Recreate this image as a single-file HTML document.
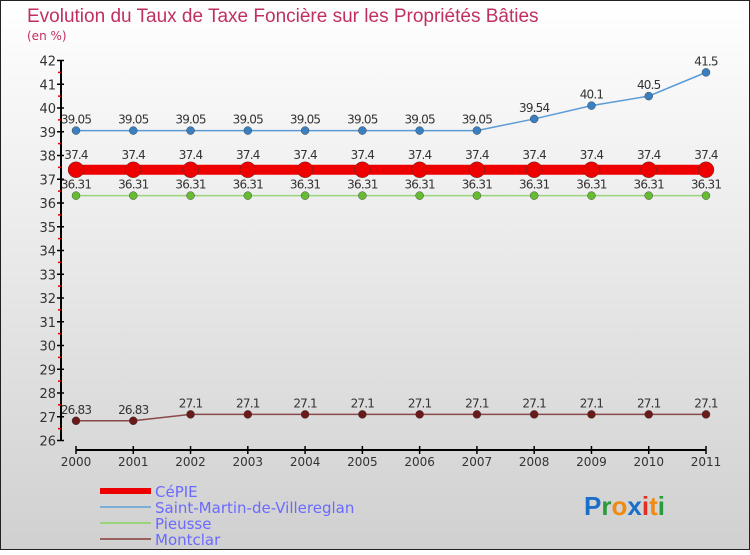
<!DOCTYPE html>
<html><head><meta charset="utf-8"><style>
body{margin:0}
svg text{font-family:"DejaVu Sans","Liberation Sans",sans-serif}
</style></head><body>
<svg id="c" width="750" height="550" xmlns="http://www.w3.org/2000/svg">
<defs><linearGradient id="bg" x1="0" y1="0" x2="0" y2="1"><stop offset="0" stop-color="#ffffff"/><stop offset="1" stop-color="#d0d0d0"/></linearGradient></defs>
<rect x="0.5" y="0.5" width="749" height="549" fill="url(#bg)" stroke="#222"/>
<text x="27" y="22" font-size="19" fill="#c0305f" style="font-family:'Liberation Sans',sans-serif">Evolution du Taux de Taxe Foncière sur les Propriétés Bâties</text>
<text x="27" y="40" font-size="12" fill="#c0305f">(en %)</text>
<g id="axes"></g><g id="series"></g><g id="legend"></g>
<text x="584" y="515" font-size="26" font-weight="bold" style="font-family:'Liberation Sans',sans-serif"><tspan fill="#1a6fc9">P</tspan><tspan fill="#2a9a3a">r</tspan><tspan fill="#f08a10">o</tspan><tspan fill="#1a6fc9">x</tspan><tspan fill="#e03020">i</tspan><tspan fill="#f08a10">t</tspan><tspan fill="#2a9a3a">i</tspan></text>
</svg>
<script>
const years=[2000,2001,2002,2003,2004,2005,2006,2007,2008,2009,2010,2011];
const yTicks=[26,27,28,29,30,31,32,33,34,35,36,37,38,39,40,41,42];
const names=["CéPIE","Saint-Martin-de-Villereglan","Pieusse","Montclar"];
const cepie=[37.4,37.4,37.4,37.4,37.4,37.4,37.4,37.4,37.4,37.4,37.4,37.4];
const stmartin=[39.05,39.05,39.05,39.05,39.05,39.05,39.05,39.05,39.54,40.1,40.5,41.5];
const pieusse=[36.31,36.31,36.31,36.31,36.31,36.31,36.31,36.31,36.31,36.31,36.31,36.31];
const montclar=[26.83,26.83,27.1,27.1,27.1,27.1,27.1,27.1,27.1,27.1,27.1,27.1];
const NS="http://www.w3.org/2000/svg";
const X=i=>76+i*(706-76)/(years.length-1);
const Y=v=>440.5-(v-26)*(440.5-60.5)/16;
function mk(p,t,a){const e=document.createElementNS(NS,t);for(const k in a)e.setAttribute(k,a[k]);p.appendChild(e);return e;}
const ax=document.getElementById('axes');
let l=mk(ax,'line',{x1:61,y1:Y(42),x2:61,y2:Y(26),stroke:'#000','stroke-width':2});


yTicks.forEach(v=>{
 mk(ax,'line',{x1:57,y1:Y(v),x2:64,y2:Y(v),stroke:'#000','stroke-width':1.5});
 if(v<42) mk(ax,'line',{x1:58,y1:Y(v+0.5),x2:61,y2:Y(v+0.5),stroke:'#e00000','stroke-width':1.5});
 const t=mk(ax,'text',{x:56,y:Y(v)+5,'text-anchor':'end','font-size':13,fill:'#333'});t.textContent=v;
 
 
});
l=mk(ax,'line',{x1:76,y1:450,x2:706,y2:450,stroke:'#000','stroke-width':2});


years.forEach((y,i)=>{
 mk(ax,'line',{x1:X(i),y1:446,x2:X(i),y2:454,stroke:'#000','stroke-width':1.5});
 const t=mk(ax,'text',{x:X(i),y:466,'text-anchor':'middle','font-size':12,fill:'#333'});t.textContent=y;
 
 
});
const sg=document.getElementById('series');
const defs=[[stmartin,'#5b9bd5','#3a7fc0',1.5,4,'saint-martin',-7],[montclar,'#8b4a4a','#6b1a1a',1.5,4,'montclar',-7],[pieusse,'#99d47a','#66bb33',1.5,4,'pieusse',-7],[cepie,'#ee0000','#ee0000',10,8,'cepie',-11]];
defs.forEach(([d,lc,pc,w,r,n,off])=>{
 const g=mk(sg,'g',{});
 
 
 const p=mk(g,'polyline',{points:d.map((v,i)=>X(i)+','+Y(v)).join(' '),fill:'none',stroke:lc,'stroke-width':w});
 
 
 d.forEach((v,i)=>{
  const c=mk(g,'circle',{cx:X(i),cy:Y(v),r:r,fill:pc,stroke:'#333','stroke-width':0.4});
  
  
  const t=mk(g,'text',{x:X(i),y:Y(v)+off,'text-anchor':'middle','font-size':12,fill:'#333','letter-spacing':'-0.8'});t.textContent=v;
  
  
 });
});
const lg=document.getElementById('legend');
const lcol=['#ee0000','#7aaed6','#99d47a','#9a6060'];const lw=[6,2,2,2];
names.forEach((n,i)=>{
 const y=491+i*16;
 const g=mk(lg,'g',{});
 
 
 mk(g,'line',{x1:100,y1:y,x2:151,y2:y,stroke:lcol[i],'stroke-width':lw[i]});
 const t=mk(g,'text',{x:155,y:y+6,'font-size':15,fill:'#6a6aff'});t.textContent=n;
});
</script>
</body></html>
